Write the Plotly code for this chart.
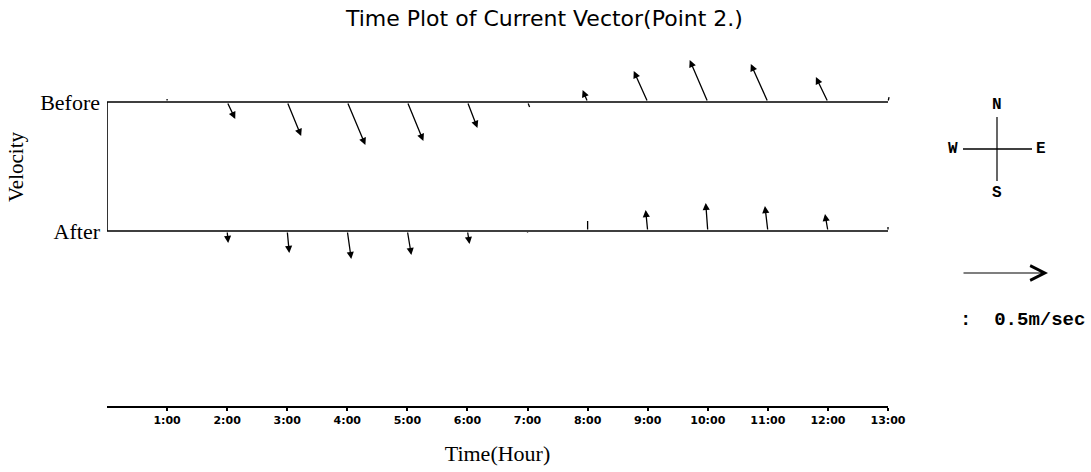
import plotly.graph_objects as go

# ---------------- data ----------------
HOURS = [1, 2, 3, 4, 5, 6, 7, 8, 9, 10, 11, 12, 13]
TICK_LABELS = ["1:00", "2:00", "3:00", "4:00", "5:00", "6:00", "7:00",
               "8:00", "9:00", "10:00", "11:00", "12:00", "13:00"]
ROWS = ["Before", "After"]

# east (u) / north (v) components of the current, m/sec
BEFORE_U = [0.000, 0.047, 0.081, 0.105, 0.093, 0.058, 0.012,
            -0.029, -0.081, -0.105, -0.099, -0.070, 0.006]
BEFORE_V = [0.017, -0.099, -0.198, -0.250, -0.227, -0.151, -0.029,
            0.070, 0.180, 0.244, 0.221, 0.145, 0.029]
AFTER_U = [0.000, 0.006, 0.012, 0.023, 0.023, 0.012, 0.000,
           0.000, -0.012, -0.012, -0.017, -0.017, 0.000]
AFTER_V = [0.000, -0.070, -0.128, -0.163, -0.140, -0.076, -0.012,
           0.058, 0.122, 0.163, 0.145, 0.099, 0.023]

SCALE_SPEED = 0.5  # m/sec, reference arrow

# ---------------- layout geometry ----------------
W, H = 1091, 472
PL, PR = 107, 888          # plot area left / right, px
PT, PB = 0, 406            # plot area top / bottom, px
ROW_Y = {"Before": 1, "After": 0}
ROW_PX = {"Before": 102, "After": 231}
PX_PER_MS = 172            # arrow length scale, px per m/sec
HEAD_MIN_SPEED = 0.06      # shorter vectors are drawn as plain ticks

px_per_hour = (PR - PL) / HOURS[-1]
px_per_y = ROW_PX["After"] - ROW_PX["Before"]
y_top = 1 + (ROW_PX["Before"] - PT) / px_per_y
y_bot = 0 - (PB - ROW_PX["After"]) / px_per_y


def paper(x, y):
    return (x - PL) / (PR - PL), (PB - y) / (PB - PT)


SERIF = "Liberation Serif, Times New Roman, serif"
SANS = "DejaVu Sans, Arial, sans-serif"
MONO = "Liberation Mono, Courier New, monospace"

fig = go.Figure()

# frame: Before baseline, left bar, After baseline
fig.add_trace(go.Scatter(
    x=[HOURS[-1], 0, 0, HOURS[-1]],
    y=[ROW_Y["Before"], ROW_Y["Before"], ROW_Y["After"], ROW_Y["After"]],
    mode="lines", line=dict(color="black", width=1.6),
    hoverinfo="skip", showlegend=False, cliponaxis=False,
))

annotations = []

# current vectors
for row, us, vs in [("Before", BEFORE_U, BEFORE_V), ("After", AFTER_U, AFTER_V)]:
    y0 = ROW_Y[row]
    for h, u, v in zip(HOURS, us, vs):
        if u == 0 and v == 0:
            continue
        speed = (u * u + v * v) ** 0.5
        annotations.append(dict(
            x=h + u * PX_PER_MS / px_per_hour,
            y=y0 + v * PX_PER_MS / px_per_y,
            ax=h, ay=y0, xref="x", yref="y", axref="x", ayref="y",
            text="", showarrow=True,
            arrowhead=2 if speed > HEAD_MIN_SPEED else 0,
            arrowsize=1.1, arrowwidth=1.3, arrowcolor="black",
            standoff=0, startstandoff=0,
        ))

# compass
cx, cy = 997, 149
shapes = []
x0, y0 = paper(cx, 117)
x1, y1 = paper(cx, 181)
shapes.append(dict(type="line", xref="paper", yref="paper", x0=x0, y0=y0, x1=x1, y1=y1,
                   line=dict(color="black", width=1.2)))
x0, y0 = paper(963, cy)
x1, y1 = paper(1032, cy)
shapes.append(dict(type="line", xref="paper", yref="paper", x0=x0, y0=y0, x1=x1, y1=y1,
                   line=dict(color="black", width=1.4)))
for lab, (lx, ly) in {"N": (cx, 105), "S": (cx, 193), "W": (953, cy), "E": (1041, cy)}.items():
    px_, py_ = paper(lx, ly)
    annotations.append(dict(x=px_, y=py_, xref="paper", yref="paper", text=lab,
                            showarrow=False, xanchor="center", yanchor="middle",
                            font=dict(family=MONO, size=16, color="black", weight="bold")))

# scale arrow
hx, hy = paper(962 + SCALE_SPEED * PX_PER_MS, 273)
annotations.append(dict(x=hx, y=hy, xref="paper", yref="paper", text="",
                        showarrow=True, ax=-SCALE_SPEED * PX_PER_MS, ay=0,
                        arrowhead=5, arrowsize=2.4, arrowwidth=1.2, arrowcolor="black",
                        standoff=0, startstandoff=0))
tx, ty = paper(958, 320)
annotations.append(dict(x=tx, y=ty, xref="paper", yref="paper",
                        text=f":  {SCALE_SPEED}m/sec", showarrow=False,
                        xanchor="left", yanchor="middle",
                        font=dict(family=MONO, size=19, color="black", weight="bold")))

# y-axis title
vx, vy = paper(16, 167)
annotations.append(dict(x=vx, y=vy, xref="paper", yref="paper", text="Velocity",
                        textangle=-90, showarrow=False, xanchor="center", yanchor="middle",
                        font=dict(family=SERIF, size=21, color="black")))

fig.update_layout(
    width=W, height=H,
    margin=dict(l=PL, r=W - PR, t=PT, b=H - PB, autoexpand=False),
    paper_bgcolor="white", plot_bgcolor="white",
    showlegend=False,
    title=dict(text="Time Plot of Current Vector(Point 2.)", x=0.499, xanchor="center",
               y=1 - 18 / H, yanchor="middle",
               font=dict(family=SANS, size=22, color="black")),
    xaxis=dict(range=[0, HOURS[-1]], tickvals=HOURS, ticktext=TICK_LABELS,
               showline=True, linecolor="black", linewidth=1.5,
               ticks="outside", ticklen=3, tickwidth=1.5, tickcolor="black",
               showgrid=False, zeroline=False, automargin=False,
               tickfont=dict(family=SANS, size=11, color="black", weight="bold"),
               title=dict(text="Time(Hour)", standoff=20,
                          font=dict(family=SERIF, size=22, color="black"))),
    yaxis=dict(range=[y_bot, y_top], tickvals=[ROW_Y[r] for r in ROWS], ticktext=ROWS,
               showline=False, showgrid=False, zeroline=False, ticks="", automargin=False,
               ticklabelstandoff=6,
               tickfont=dict(family=SERIF, size=22, color="black")),
    annotations=annotations,
    shapes=shapes,
)

fig.write_html("out.html", config={"displayModeBar": False},
               post_script="document.body.style.margin='0';")
